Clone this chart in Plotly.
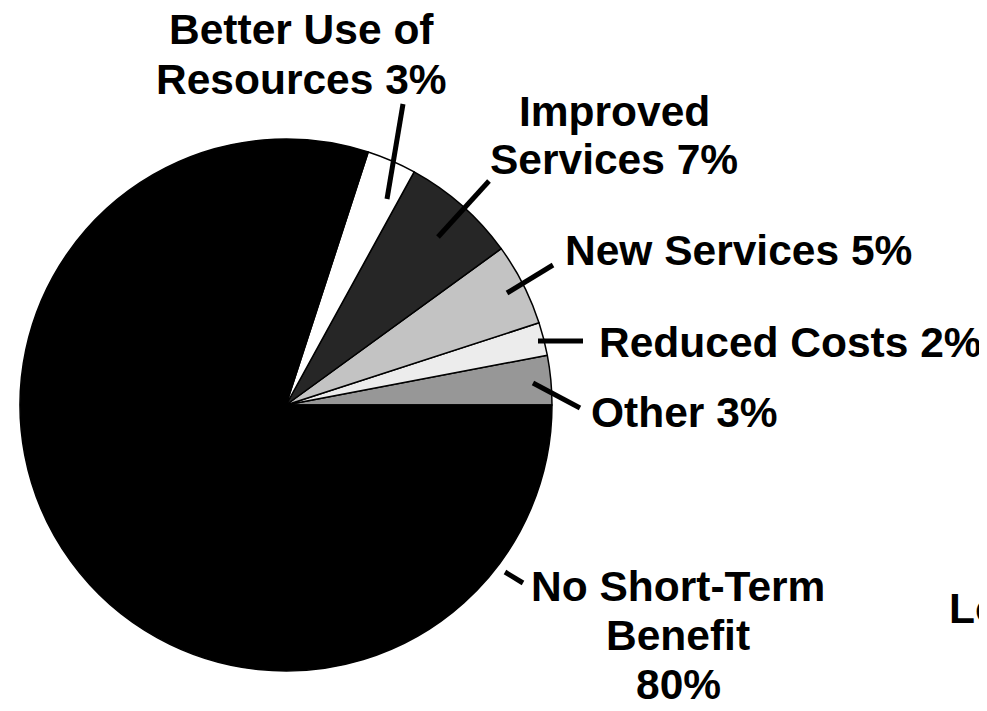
import plotly.graph_objects as go

# Data (counterclockwise from 3 o'clock)
categories = ["Other", "Reduced Costs", "New Services", "Improved Services",
              "Better Use of Resources", "No Short-Term Benefit"]
values = [3, 2, 5, 7, 3, 80]
slice_colors = ["#979797", "#ececec", "#c3c3c3", "#262626", "#ffffff", "#000000"]

# Label text lines
label_lines = {
    "Better Use of Resources": ["Better Use of", "Resources 3%"],
    "Improved Services": ["Improved", "Services 7%"],
    "New Services": ["New Services 5%"],
    "Reduced Costs": ["Reduced Costs 2%"],
    "Other": ["Other 3%"],
    "No Short-Term Benefit": ["No Short-Term", "Benefit", "80%"],
}
extra_text = "Long-Term"

# The page body has an 8px margin; work in page pixels and convert
OFF = 8
W, H = 987 - OFF, 711 - OFF
cx, cy, r = 286 - OFF, 405 - OFF, 266

# first slice starts at 3 o'clock and runs counterclockwise
rotation = 90 - 360 * values[0] / sum(values)

fig = go.Figure()
fig.add_trace(go.Pie(
    labels=categories, values=values, sort=False,
    direction="counterclockwise", rotation=rotation,
    marker=dict(colors=slice_colors, line=dict(color="#000000", width=1.5)),
    textinfo="none", hoverinfo="label+value", showlegend=False,
    domain=dict(x=[(cx - r) / W, (cx + r) / W], y=[1 - (cy + r) / H, 1 - (cy - r) / H]),
))

font = dict(family="Liberation Sans, Arial, sans-serif", size=42.5, color="#000000")

# label anchor settings in page pixels: (x center, first-line middle y, line spacing)
label_pos = {
    "Better Use of Resources": (301, 29, 50),
    "Improved Services": (614, 111, 48),
    "New Services": (738, 250, 0),
    "Reduced Costs": (790, 342, 0),
    "Other": (684, 412, 0),
    "No Short-Term Benefit": (678, 586, 49),
}
leaders = {
    "Better Use of Resources": ((403, 104), (387, 199)),
    "Improved Services": ((489, 181), (438, 237)),
    "New Services": ((553, 265), (507, 293)),
    "Reduced Costs": ((583, 341), (538, 341)),
    "Other": ((580, 408), (533, 383)),
    "No Short-Term Benefit": ((523, 583), (505, 572)),
}

annotations = []
for cat in categories:
    x0, y0, dy = label_pos[cat]
    for i, line in enumerate(label_lines[cat]):
        annotations.append(dict(
            x=x0 - OFF, y=y0 + i * dy - OFF, xref="x", yref="y", text="<b>" + line + "</b>",
            showarrow=False, xanchor="center", yanchor="middle", font=font,
        ))
annotations.append(dict(
    x=947 - OFF, y=608 - OFF, xref="x", yref="y", text="<b>" + extra_text + "</b>",
    showarrow=False, xanchor="left", yanchor="middle", font=font,
))

shapes = []
for cat in categories:
    (x1, y1), (x2, y2) = leaders[cat]
    shapes.append(dict(type="line", xref="x", yref="y",
                       x0=x1 - OFF, y0=y1 - OFF, x1=x2 - OFF, y1=y2 - OFF,
                       line=dict(color="#000000", width=5)))

fig.update_layout(
    width=W, height=H, margin=dict(l=0, r=0, t=0, b=0),
    paper_bgcolor="#ffffff", plot_bgcolor="rgba(0,0,0,0)",
    xaxis=dict(range=[0, W], visible=False, fixedrange=True),
    yaxis=dict(range=[H, 0], visible=False, fixedrange=True),
    annotations=annotations, shapes=shapes, showlegend=False,
)

fig.write_html("out.html")
